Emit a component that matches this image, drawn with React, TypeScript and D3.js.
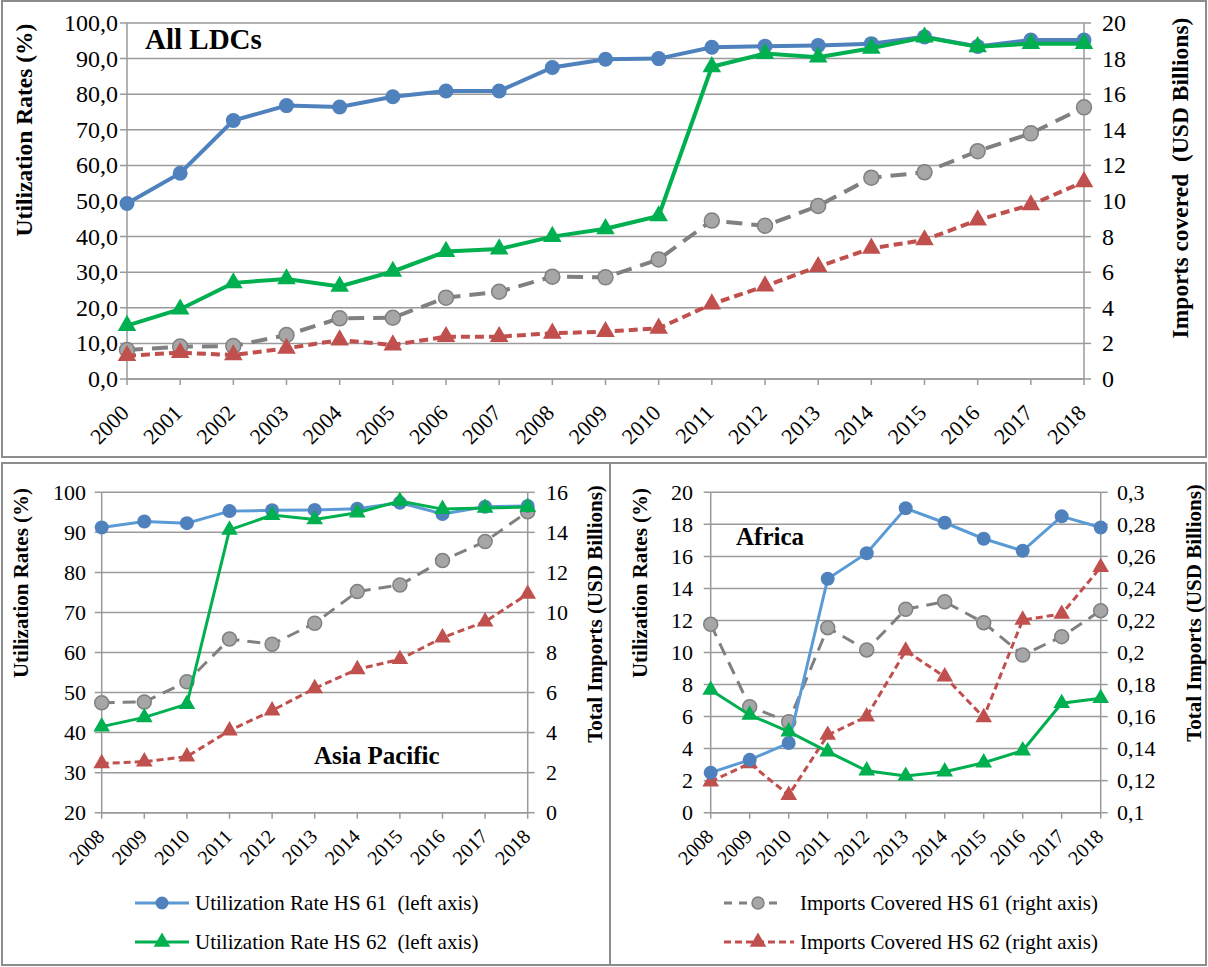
import React from "react";
import * as d3 from "d3";

// ---------- DATA ----------
const yearsLDC = [2000, 2001, 2002, 2003, 2004, 2005, 2006, 2007, 2008, 2009, 2010, 2011, 2012, 2013, 2014, 2015, 2016, 2017, 2018];
const ldcUtilHS61 = [49.3, 57.8, 72.6, 76.8, 76.4, 79.3, 80.9, 80.9, 87.5, 89.8, 90.0, 93.2, 93.5, 93.7, 94.2, 96.1, 93.4, 95.2, 95.2];
const ldcUtilHS62 = [15.0, 19.6, 27.0, 28.1, 26.0, 30.2, 35.8, 36.5, 40.0, 42.2, 45.8, 87.7, 91.4, 90.4, 92.9, 96.0, 93.3, 94.2, 94.2];
const ldcImpHS61 = [1.63, 1.82, 1.85, 2.47, 3.41, 3.44, 4.57, 4.9, 5.75, 5.71, 6.72, 8.9, 8.61, 9.72, 11.31, 11.61, 12.8, 13.8, 15.26];
const ldcImpHS62 = [1.31, 1.48, 1.35, 1.72, 2.19, 1.91, 2.38, 2.38, 2.57, 2.66, 2.85, 4.21, 5.22, 6.31, 7.34, 7.81, 8.93, 9.78, 11.08];

const yearsRegion = [2008, 2009, 2010, 2011, 2012, 2013, 2014, 2015, 2016, 2017, 2018];
const apUtilHS61 = [91.2, 92.7, 92.3, 95.3, 95.5, 95.6, 95.9, 97.4, 94.6, 96.4, 96.6];
const apUtilHS62 = [41.5, 43.8, 47.1, 90.6, 94.3, 93.2, 94.9, 97.8, 95.8, 96.1, 96.3];
const apImpHS61 = [5.49, 5.53, 6.54, 8.67, 8.41, 9.46, 11.04, 11.37, 12.59, 13.54, 15.03];
const apImpHS62 = [2.46, 2.55, 2.8, 4.1, 5.1, 6.21, 7.16, 7.66, 8.74, 9.54, 10.92];

const afUtilHS61 = [2.5, 3.3, 4.35, 14.6, 16.2, 19.0, 18.1, 17.1, 16.35, 18.5, 17.8];
const afUtilHS62 = [7.66, 6.1, 5.06, 3.81, 2.62, 2.29, 2.56, 3.12, 3.87, 6.83, 7.14];
const afImpHS61 = [0.2176, 0.1662, 0.1568, 0.2155, 0.2016, 0.227, 0.2317, 0.2186, 0.1984, 0.2099, 0.2261];
const afImpHS62 = [0.1194, 0.1308, 0.111, 0.1485, 0.16, 0.2011, 0.1849, 0.1595, 0.2203, 0.224, 0.2532];

const ticksLDCLeft = [0, 10, 20, 30, 40, 50, 60, 70, 80, 90, 100];
const ticksLDCRight = [0, 2, 4, 6, 8, 10, 12, 14, 16, 18, 20];
const ticksAPLeft = [20, 30, 40, 50, 60, 70, 80, 90, 100];
const ticksAPRight = [0, 2, 4, 6, 8, 10, 12, 14, 16];
const ticksAFLeft = [0, 2, 4, 6, 8, 10, 12, 14, 16, 18, 20];
const ticksAFRight = [0.1, 0.12, 0.14, 0.16, 0.18, 0.2, 0.22, 0.24, 0.26, 0.28, 0.3];

const legendLabels = [
  "Utilization Rate HS 61  (left axis)",
  "Utilization Rate HS 62  (left axis)",
  "Imports Covered HS 61 (right axis)",
  "Imports Covered HS 62 (right axis)",
];

// ---------- STYLE ----------
const FONT = "'Liberation Serif', 'Times New Roman', serif";
const BLUE = "#4F81BD";
const BLUE_LINE_LIGHT = "#5B9BD5";
const GREEN = "#00B050";
const GREY_LINE = "#808080";
const GREY_FILL = "#A6A6A6";
const RED = "#C0504D";
const GRID = "#9A9A9A";
const BOX = "#8C8C8C";

type Cfg = {
  years: number[];
  x0: number; x1: number; yT: number; yB: number;
  leftDomain: [number, number]; rightDomain: [number, number];
  leftTicks: number[]; rightTicks: number[];
  leftFmt: (v: number) => string; rightFmt: (v: number) => string;
  leftLabelX: number; rightLabelX: number;
  tickFont: number; xFont: number; xLabDx: number; xLabDy: number;
  u61: number[]; u62: number[]; i61: number[]; i62: number[];
  lw: number; r: number; tri: number; blueLine: string;
  greyDash: string; redDash: string;
};

const comma = (s: string) => s.replace(".", ",");
const fmt1 = (v: number) => comma(d3.format(".1f")(v));
const fmtInt = (v: number) => d3.format("d")(v);
const fmtTrim = (v: number) => comma(d3.format("~g")(+v.toFixed(2)));

function Panel({ c }: { c: Cfg }) {
  const x = d3.scalePoint<string>().domain(c.years.map(String)).range([c.x0, c.x1]);
  const yL = d3.scaleLinear().domain(c.leftDomain).range([c.yB, c.yT]);
  const yR = d3.scaleLinear().domain(c.rightDomain).range([c.yB, c.yT]);
  const lineL = d3.line<number>().x((_, i) => x(String(c.years[i]))!).y((d) => yL(d));
  const lineR = d3.line<number>().x((_, i) => x(String(c.years[i]))!).y((d) => yR(d));
  const triPath = d3.symbol().type(d3.symbolTriangle).size(c.tri)()!;

  return (
    <g>
      {c.leftTicks.map((t) => (
        <line key={"g" + t} x1={c.x0 - 7} x2={c.x1} y1={yL(t)} y2={yL(t)} stroke={GRID} strokeWidth={1.5} />
      ))}
      {c.rightTicks.map((t) => (
        <line key={"rt" + t} x1={c.x1} x2={c.x1 + 7} y1={yR(t)} y2={yR(t)} stroke={GRID} strokeWidth={1.5} />
      ))}
      <line x1={c.x0} x2={c.x0} y1={c.yT} y2={c.yB} stroke={GRID} strokeWidth={1.5} />
      <line x1={c.x1} x2={c.x1} y1={c.yT} y2={c.yB} stroke={GRID} strokeWidth={1.5} />
      <line x1={c.x0} x2={c.x1} y1={c.yB} y2={c.yB} stroke={GRID} strokeWidth={1.5} />
      {c.years.map((yr) => (
        <line key={"xt" + yr} x1={x(String(yr))} x2={x(String(yr))} y1={c.yB} y2={c.yB + 6} stroke={GRID} strokeWidth={1.5} />
      ))}
      {c.leftTicks.map((t) => (
        <text key={"lt" + t} x={c.leftLabelX} y={yL(t)} textAnchor="end" dominantBaseline="central" fontSize={c.tickFont} fontFamily={FONT}>
          {c.leftFmt(t)}
        </text>
      ))}
      {c.rightTicks.map((t) => (
        <text key={"rl" + t} x={c.rightLabelX} y={yR(t)} textAnchor="start" dominantBaseline="central" fontSize={c.tickFont} fontFamily={FONT}>
          {c.rightFmt(t)}
        </text>
      ))}
      {c.years.map((yr) => {
        const px = x(String(yr))! + c.xLabDx;
        const py = c.yB + c.xLabDy;
        return (
          <text key={"xl" + yr} x={px} y={py} transform={`rotate(-45 ${px} ${py})`} textAnchor="end" dominantBaseline="central" fontSize={c.xFont} fontFamily={FONT}>
            {yr}
          </text>
        );
      })}
      <path d={lineR(c.i61)!} fill="none" stroke={GREY_LINE} strokeWidth={c.lw} strokeDasharray={c.greyDash} />
      {c.i61.map((v, i) => (
        <circle key={"gm" + i} cx={x(String(c.years[i]))} cy={yR(v)} r={c.r} fill={GREY_FILL} stroke={GREY_LINE} strokeWidth={1.5} />
      ))}
      <path d={lineR(c.i62)!} fill="none" stroke={RED} strokeWidth={c.lw} strokeDasharray={c.redDash} />
      {c.i62.map((v, i) => (
        <path key={"rm" + i} d={triPath} transform={`translate(${x(String(c.years[i]))},${yR(v)})`} fill={RED} />
      ))}
      <path d={lineL(c.u61)!} fill="none" stroke={c.blueLine} strokeWidth={c.lw} />
      {c.u61.map((v, i) => (
        <circle key={"bm" + i} cx={x(String(c.years[i]))} cy={yL(v)} r={c.r} fill={BLUE} />
      ))}
      <path d={lineL(c.u62)!} fill="none" stroke={GREEN} strokeWidth={c.lw} />
      {c.u62.map((v, i) => (
        <path key={"tm" + i} d={triPath} transform={`translate(${x(String(c.years[i]))},${yL(v)})`} fill={GREEN} />
      ))}
    </g>
  );
}

function VTitle({ x, y, text, size }: { x: number; y: number; text: string; size: number }) {
  return (
    <text x={x} y={y} transform={`rotate(-90 ${x} ${y})`} textAnchor="middle" dominantBaseline="central" fontSize={size} fontWeight="bold" fontFamily={FONT} style={{ whiteSpace: "pre" }}>
      {text}
    </text>
  );
}

export default function App() {
  const top: Cfg = {
    years: yearsLDC, x0: 127, x1: 1084, yT: 23, yB: 379,
    leftDomain: [0, 100], rightDomain: [0, 20],
    leftTicks: ticksLDCLeft, rightTicks: ticksLDCRight,
    leftFmt: fmt1, rightFmt: fmtInt, leftLabelX: 118, rightLabelX: 1102,
    tickFont: 24, xFont: 22, xLabDx: -2, xLabDy: 30,
    u61: ldcUtilHS61, u62: ldcUtilHS62, i61: ldcImpHS61, i62: ldcImpHS62,
    lw: 4, r: 7.5, tri: 150, blueLine: BLUE, greyDash: "16 9", redDash: "9 5",
  };
  const ap: Cfg = {
    years: yearsRegion, x0: 101.7, x1: 527.7, yT: 492.3, yB: 812.7,
    leftDomain: [20, 100], rightDomain: [0, 16],
    leftTicks: ticksAPLeft, rightTicks: ticksAPRight,
    leftFmt: fmtInt, rightFmt: fmtInt, leftLabelX: 86, rightLabelX: 546,
    tickFont: 22, xFont: 20, xLabDx: -1, xLabDy: 20,
    u61: apUtilHS61, u62: apUtilHS62, i61: apImpHS61, i62: apImpHS62,
    lw: 3, r: 7, tri: 120, blueLine: BLUE_LINE_LIGHT, greyDash: "13 8", redDash: "7 4",
  };
  const af: Cfg = {
    years: yearsRegion, x0: 710.7, x1: 1100.7, yT: 492.3, yB: 812.7,
    leftDomain: [0, 20], rightDomain: [0.1, 0.3],
    leftTicks: ticksAFLeft, rightTicks: ticksAFRight,
    leftFmt: fmtInt, rightFmt: fmtTrim, leftLabelX: 693, rightLabelX: 1117,
    tickFont: 22, xFont: 20, xLabDx: -1, xLabDy: 20,
    u61: afUtilHS61, u62: afUtilHS62, i61: afImpHS61, i62: afImpHS62,
    lw: 3, r: 7, tri: 120, blueLine: BLUE_LINE_LIGHT, greyDash: "13 8", redDash: "7 4",
  };
  const legTri = d3.symbol().type(d3.symbolTriangle).size(120)()!;

  return (
    <svg width={1208} height={967} style={{ position: "absolute", left: 0, top: 0, background: "#fff" }}>
      <rect x={0} y={0} width={1208} height={967} fill="#fff" />
      <rect x={2} y={1} width={1204} height={456} fill="none" stroke={BOX} strokeWidth={2} />
      <rect x={2} y={463} width={608} height={502} fill="none" stroke={BOX} strokeWidth={2} />
      <rect x={610} y={463} width={596} height={502} fill="none" stroke={BOX} strokeWidth={2} />

      <Panel c={top} />
      <Panel c={ap} />
      <Panel c={af} />

      <text x={145} y={49} fontSize={29} fontWeight="bold" fontFamily={FONT}>All LDCs</text>
      <text x={314} y={764} fontSize={25} fontWeight="bold" fontFamily={FONT}>Asia Pacific</text>
      <text x={736} y={545} fontSize={25} fontWeight="bold" fontFamily={FONT}>Africa</text>

      <VTitle x={24} y={130} text="Utilization Rates (%)" size={23.5} />
      <VTitle x={1180} y={178} text="Imports covered  (USD Billions)" size={23.5} />
      <VTitle x={21} y={583} text="Utilization Rates (%)" size={21} />
      <VTitle x={595} y={614} text="Total Imports (USD Billions)" size={21} />
      <VTitle x={640} y={583} text="Utilization Rates (%)" size={21} />
      <VTitle x={1194} y={613} text="Total Imports (USD Billions)" size={21} />

      <g fontFamily={FONT} fontSize={21}>
        <line x1={135} x2={189} y1={903} y2={903} stroke={BLUE_LINE_LIGHT} strokeWidth={3} />
        <circle cx={162} cy={903} r={6.5} fill={BLUE} />
        <text x={195} y={903} dominantBaseline="central" style={{ whiteSpace: "pre" }}>{legendLabels[0]}</text>

        <line x1={135} x2={189} y1={942} y2={942} stroke={GREEN} strokeWidth={3} />
        <path d={legTri} transform="translate(162,942)" fill={GREEN} />
        <text x={195} y={942} dominantBaseline="central" style={{ whiteSpace: "pre" }}>{legendLabels[1]}</text>

        <line x1={724} x2={782} y1={903} y2={903} stroke={GREY_LINE} strokeWidth={3} strokeDasharray="8 7" />
        <circle cx={758} cy={903} r={6} fill={GREY_FILL} stroke={GREY_LINE} strokeWidth={1.5} />
        <text x={800} y={903} dominantBaseline="central">{legendLabels[2]}</text>

        <line x1={724} x2={794} y1={942} y2={942} stroke={RED} strokeWidth={3} strokeDasharray="7 4" />
        <path d={legTri} transform="translate(758,942)" fill={RED} />
        <text x={800} y={942} dominantBaseline="central">{legendLabels[3]}</text>
      </g>
    </svg>
  );
}
